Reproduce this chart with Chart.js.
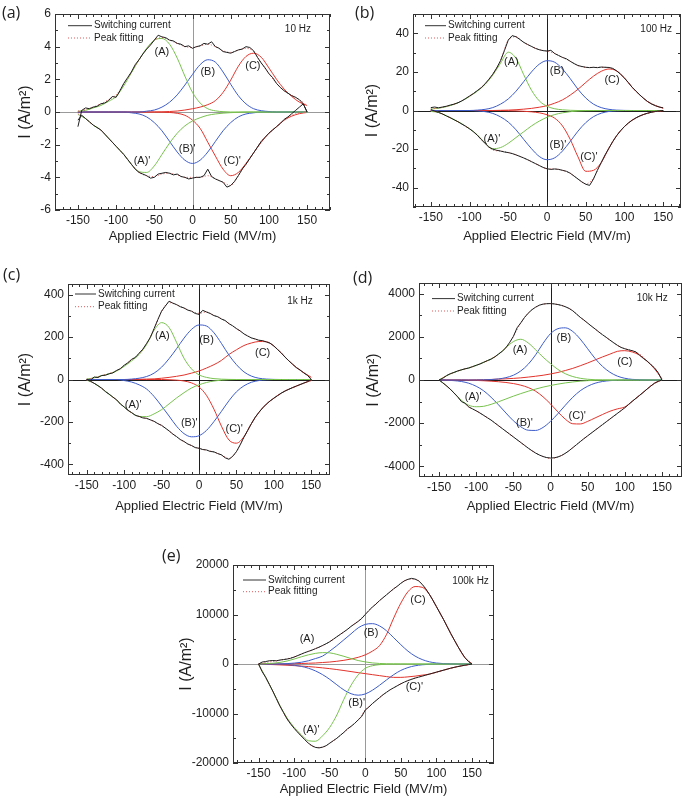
<!DOCTYPE html>
<html>
<head>
<meta charset="utf-8">
<title>Switching current peak fitting</title>
<script src="https://cdn.jsdelivr.net/npm/chart.js@4.4.0/dist/chart.umd.min.js"></script>
<style>
  body { margin: 0; background: #fff; }
  #page { position: relative; width: 685px; height: 800px; overflow: hidden; }
  canvas { position: absolute; }
  .tag { position: absolute; font: 16px "Open Sans", sans-serif; color: #222; line-height: 20px; }
</style>
</head>
<body>
<div id="page">
  <canvas id="chart-a" width="340" height="250" style="left:0;top:0"></canvas>
  <canvas id="chart-b" width="345" height="250" style="left:340px;top:0"></canvas>
  <canvas id="chart-c" width="340" height="260" style="left:0;top:260px"></canvas>
  <canvas id="chart-d" width="345" height="260" style="left:340px;top:260px"></canvas>
  <canvas id="chart-e" width="360" height="280" style="left:160px;top:520px"></canvas>
  <div class="tag" style="left:2px;top:2px">(a)</div>
  <div class="tag" style="left:355px;top:2px">(b)</div>
  <div class="tag" style="left:3px;top:264px">(c)</div>
  <div class="tag" style="left:353px;top:267px">(d)</div>
  <div class="tag" style="left:162px;top:545px">(e)</div>
</div>
<script>
// === Field grids (MV/m) ===
const FIELD_FINE = [-150,-145,-140,-135,-130,-125,-120,-115,-110,-105,-100,-95,-90,-85,-80,-75,-70,-65,-60,-55,
  -50,-45,-40,-35,-30,-25,-20,-15,-10,-5,0,5,10,15,20,25,30,35,40,45,50,55,60,65,70,75,80,85,90,95,
  100,105,110,115,120,125,130,135,140,145,150];
const FIELD = [-150,-140,-130,-120,-110,-100,-90,-80,-70,-60,-50,-40,-30,-20,-10,0,10,20,30,40,50,60,70,80,90,100,110,120,130,140,150];
const X_TICKS = [-150, -100, -50, 0, 50, 100, 150];

// === (a) 10 Hz ===
const aSwitchUp = [-0.9,0.1,0.25,0.2,0.3,0.35,0.5,0.55,0.7,0.95, 0.9,1.3,1.75,2.1,2.45,2.9,3.2,3.55,3.85,4.1,
  4.4,4.7,4.6,4.55,4.4,4.35,4.2,4.15,4.0,4.05, 3.9,4.0,4.05,4.2,4.15,4.3,4.0,3.9,3.7,3.65,
  3.6,3.7,3.8,3.85,4.0,3.95,3.75,3.35,3.0,2.7, 2.35,2.1,1.75,1.5,1.3,1.15,1.0,0.9,0.75,0.5,0.0];
const aSwitchLow = [-0.5,-0.2,-0.4,-0.6,-0.8,-0.95,-1.1,-1.35,-1.6,-1.85, -2.1,-2.35,-2.6,-2.9,-3.2,-3.5,-3.7,-3.8,-3.9,-4.05,
  -4.0,-3.8,-3.75,-3.7,-3.75,-3.85,-3.8,-3.95,-4.0,-4.1, -4.05,-4.0,-4.0,-3.9,-3.5,-3.95,-4.1,-4.2,-4.3,-4.6,
  -4.5,-4.25,-3.9,-3.5,-3.2,-2.85,-2.5,-2.15,-1.8,-1.55, -1.3,-1.1,-0.9,-0.7,-0.45,-0.3,-0.1,0.1,0.3,0.5,0.0];
const aFitUp = [0.05,0.15,0.3,0.5,0.75,1.05,1.7,2.45,3.2,3.85,4.4,4.55,4.4,4.2,4.0,3.95,4.05,4.15,4.0,3.75,3.65,3.8,3.9,3.7,3.0,2.35,1.75,1.3,1.0,0.75,0.4];
const aFitLow = [-0.1,-0.4,-0.8,-1.1,-1.6,-2.1,-2.6,-3.2,-3.7,-3.9,-3.95,-3.8,-3.75,-3.85,-4.0,-4.0,-4.0,-3.9,-4.1,-4.3,-4.5,-3.9,-3.2,-2.5,-1.8,-1.3,-0.9,-0.5,-0.2,-0.05,0];
const aPeakA = [0.05,0.1,0.25,0.4,0.65,0.95,1.6,2.4,3.2,3.9,4.4,4.5,4.15,3.3,2.2,1.2,0.55,0.2,0.07,0.02,0,0,0,0,0,0,0,0,0,0,0];
const aPeakB = [0,0,0,0,0,0,0,0,0,0.05,0.12,0.3,0.6,1.05,1.65,2.3,2.9,3.2,3.05,2.45,1.7,1.0,0.5,0.2,0.08,0.03,0,0,0,0,0];
const aPeakC = [0,0,0,0,0,0,0,0,0,0,0,0.01,0.03,0.06,0.12,0.2,0.3,0.45,0.7,1.2,1.95,2.8,3.4,3.6,3.35,2.7,2.0,1.4,0.95,0.6,0.4];
const aPeakA2 = [-0.15,-0.4,-0.8,-1.1,-1.6,-2.1,-2.6,-3.2,-3.65,-3.7,-3.3,-2.6,-1.9,-1.3,-0.85,-0.55,-0.35,-0.2,-0.12,-0.07,-0.04,-0.02,0,0,0,0,0,0,0,0,0];
const aPeakB2 = [0,0,0,0,0,0,0,-0.05,-0.12,-0.3,-0.65,-1.15,-1.8,-2.45,-2.95,-3.15,-2.95,-2.45,-1.8,-1.15,-0.65,-0.3,-0.12,-0.05,0,0,0,0,0,0,0];
const aPeakC2 = [0,0,0,0,0,0,0,0,0,0,0,-0.01,-0.03,-0.08,-0.2,-0.5,-1.0,-1.85,-2.7,-3.5,-3.9,-3.7,-3.15,-2.5,-1.85,-1.3,-0.9,-0.5,-0.25,-0.1,-0.03];

// === (b) 100 Hz ===
const bSwitchUp = [1.5,1.8,1.4,1.8,2.2,2.8,3.3,4.0,5.0,6.2, 7.5,8.8,10.3,11.8,13.8,16.2,18.8,22,25.8,31,
  36.5,38.8,38.2,36.8,35.3,34.2,33.2,32.2,31.5,31, 30.8,31.2,29.5,28.5,27.5,26.8,25.5,24.3,23.3,22.8,
  22.4,22.2,22.4,22.2,22.5,22.4,22.3,21.8,20.5,18.8, 16.8,14.5,12,10,8,6.2,4.6,3.4,2.5,1.8,1.4];
const bSwitchLow = [0.5,-0.3,-1.0,-1.8,-2.8,-3.7,-4.8,-5.8,-7.0,-8.2, -9.5,-11,-12.8,-15,-17,-19,-20,-20.6,-21,-21.5,
  -21.8,-22.3,-23,-23.8,-24.6,-25.5,-26.5,-27.5,-28.5,-29.5, -30.2,-30.5,-30.3,-30.5,-31,-31.5,-32.5,-34,-35.5,-37,
  -38.2,-38.8,-35.5,-31,-27,-23,-19.5,-16,-13,-10.5, -8.3,-6.5,-5.0,-3.8,-2.8,-2.0,-1.4,-0.9,-0.5,-0.2,0];
const bFitUp = [0.8,1.3,2.1,3.3,5.0,7.5,10.3,13.8,18.8,25.8,36.5,38.2,35.3,33.2,31.5,30.8,29.5,27.5,25.5,23.3,22.4,22.3,22.4,22.2,20.5,16.8,12,8,4.6,2.5,1.2];
const bFitLow = [-0.2,-1,-2.8,-4.8,-7,-9.5,-12.8,-17,-20.5,-21,-21.8,-23,-24.6,-26.5,-28.5,-30.2,-30.3,-31,-32.5,-35.5,-38,-35,-27,-19.5,-13,-8.3,-5,-2.8,-1.4,-0.5,0];
const bPeakA = [0.7,1.2,2.0,3.2,4.9,7.3,10,13.5,18.3,24.5,30.2,27,18.5,10.5,5,2.2,0.9,0.35,0.1,0,0,0,0,0,0,0,0,0,0,0,0];
const bPeakB = [0,0,0,0,0,0,0.2,0.6,1.5,3.3,6,10,15,20,24,25.8,25,21.5,16.5,11,6.5,3.3,1.5,0.6,0.2,0.05,0,0,0,0,0];
const bPeakC = [0,0,0,0,0,0,0,0,0,0.1,0.2,0.4,0.7,1.1,1.7,2.5,3.8,5.5,8,11,14.5,17.8,20.3,21.5,20.5,16.8,12,8,4.6,2.5,1.2];
const bPeakA2 = [-0.5,-1.0,-2.7,-4.7,-6.9,-9.4,-12.6,-16.8,-19.8,-19.2,-17,-14,-11,-8,-5.5,-3.5,-2.1,-1.2,-0.6,-0.3,-0.12,-0.05,0,0,0,0,0,0,0,0,0];
const bPeakB2 = [0,0,0,0,0,0,-0.2,-0.6,-1.5,-3.3,-6,-10,-15,-19.8,-23.8,-25.5,-24.5,-21,-16,-10.7,-6.3,-3.2,-1.4,-0.5,-0.15,0,0,0,0,0,0];
const bPeakC2 = [0,0,0,0,0,0,0,0,0,0,-0.1,-0.2,-0.4,-0.7,-1.2,-2.2,-4,-8,-15,-24,-31.5,-31,-27,-19.5,-13,-8.3,-5,-2.8,-1.4,-0.5,-0.1];

// === (c) 1k Hz ===
const cSwitchUp = [0,-3,12,9,19,20,27,31,43,51, 67,79,95,104,124,143,170,198,240,282,
  322,346,369,360,353,343,337,327,322,311, 307,326,318,311,301,296,285,278,263,253,
  240,229,215,205,196,191,185,183,177,171, 158,141,125,105,88,72,56,45,31,19,0];
const cSwitchLow = [0,-8,-18,-29,-41,-57,-69,-83,-96,-116, -129,-145,-156,-169,-174,-181,-183,-190,-197,-208,
  -216,-229,-242,-257,-269,-283,-292,-304,-311,-321, -324,-330,-332,-339,-341,-349,-355,-369,-376,-362,
  -340,-308,-272,-240,-208,-178,-155,-134,-116,-101, -88,-76,-64,-54,-46,-38,-31,-24,-17,-10,0];
const cFitUp = [2,8,18,28,42,66,94,122,168,238,320,362,352,336,322,312,318,302,286,264,240,216,196,185,178,158,124,88,57,32,10];
const cFitLow = [-3,-18,-42,-70,-97,-130,-157,-175,-184,-198,-217,-243,-270,-293,-312,-325,-333,-342,-356,-372,-340,-272,-208,-155,-116,-88,-64,-46,-31,-17,-5];
const cPeakA = [2,8,18,27,40,62,88,118,165,232,268,245,175,100,50,22,10,4,1.5,0.5,0,0,0,0,0,0,0,0,0,0,0];
const cPeakB = [0,0,0,0,0,0,2,6,14,30,58,98,145,195,236,257,252,220,170,115,70,36,16,6,2,0.5,0,0,0,0,0];
const cPeakC = [0,0,0,0,0,0,0,1,2,3,6,10,15,21,30,40,54,70,90,118,140,160,172,179,178,158,124,88,57,32,10];
const cPeakA2 = [-3,-18,-42,-70,-97,-130,-157,-174,-175,-162,-142,-115,-87,-62,-40,-25,-14,-7,-3,-1,0,0,0,0,0,0,0,0,0,0,0];
const cPeakB2 = [0,0,0,0,0,-5,-12,-25,-45,-80,-125,-172,-220,-255,-270,-265,-240,-198,-150,-100,-58,-30,-13,-5,-1.5,0,0,0,0,0,0];
const cPeakC2 = [0,0,0,0,0,0,0,0,0,0,0,-1,-3,-7,-16,-35,-75,-140,-220,-285,-300,-270,-208,-155,-116,-88,-64,-46,-31,-17,-5];

// === (d) 10k Hz ===
const dSwitchUp = [0,80,200,290,350,420,470,520,557,620, 680,740,820,900,970,1070,1200,1330,1500,1740,
  2020,2420,2650,2900,3100,3260,3380,3470,3520,3540, 3545,3530,3500,3460,3400,3320,3210,3060,2910,2780,
  2640,2500,2370,2230,2100,1980,1850,1730,1610,1510, 1450,1400,1360,1300,1150,1000,880,720,560,340,0];
const dSwitchLow = [0,-130,-270,-420,-600,-780,-1000,-1080,-1250,-1340, -1430,-1530,-1640,-1750,-1860,-1990,-2120,-2250,-2380,-2510,
  -2640,-2770,-2900,-3030,-3160,-3280,-3390,-3480,-3550,-3600, -3620,-3610,-3570,-3500,-3400,-3280,-3140,-3000,-2860,-2720,
  -2590,-2460,-2330,-2200,-2070,-1940,-1810,-1680,-1550,-1420, -1290,-1140,-990,-850,-710,-570,-420,-280,-150,-60,0];
const dFitUp = [0,200,350,470,557,680,820,970,1200,1500,2020,2650,3100,3380,3520,3545,3500,3400,3210,2910,2640,2370,2100,1850,1610,1450,1360,1200,880,560,50];
const dFitLow = [0,-270,-600,-960,-1250,-1430,-1640,-1860,-2120,-2380,-2640,-2900,-3160,-3390,-3550,-3640,-3570,-3400,-3140,-2860,-2590,-2330,-2070,-1810,-1550,-1290,-990,-710,-420,-150,0];
const dPeakA = [0,200,350,470,557,680,820,970,1200,1500,1780,1890,1720,1400,1060,760,490,290,160,80,35,12,4,0,0,0,0,0,0,0,0];
const dPeakB = [0,0,0,0,0,0,8,20,50,110,220,420,730,1170,1700,2150,2380,2420,2250,1900,1450,1000,630,360,180,80,30,10,0,0,0];
const dPeakC = [0,0,0,0,0,10,15,25,40,55,75,100,135,175,220,280,350,440,540,660,790,930,1070,1200,1330,1360,1300,1150,870,520,50];
const dPeakA2 = [0,-270,-590,-940,-1170,-1240,-1220,-1130,-1010,-880,-750,-630,-520,-420,-330,-255,-190,-135,-90,-55,-30,-15,-6,0,0,0,0,0,0,0,0];
const dPeakB2 = [0,-10,-30,-70,-150,-290,-500,-800,-1150,-1530,-1890,-2170,-2330,-2340,-2200,-1920,-1560,-1170,-800,-500,-290,-150,-70,-30,-10,0,0,0,0,0,0];
const dPeakC2 = [0,0,0,0,-10,-20,-35,-55,-80,-115,-165,-240,-350,-520,-780,-1110,-1480,-1820,-2030,-2040,-1920,-1760,-1600,-1450,-1340,-1250,-990,-710,-420,-150,0];

// === (e) 100k Hz ===
const eSwitchUp = [0,400,500,650,700,650,800,900,1000,1150, 1400,1700,2000,2300,2550,2800,3100,3400,3750,4100,
  4500,5000,5500,6000,6500,7000,7600,8100,8600,9200, 10000,10800,11500,12100,12800,13400,14000,14600,15200,15700,
  16300,16800,17100,17300,17150,16800,16100,15200,14100,12900, 11600,10300,9000,7600,6200,4900,3600,2400,1300,500,0];
const eSwitchLow = [0,-1550,-2700,-4100,-5500,-7000,-8500,-9800,-11100,-12100, -13000,-13800,-14550,-15300,-16000,-16500,-16850,-16950,-16800,-16500,
  -16000,-15500,-15000,-14400,-13800,-13100,-12600,-12000,-11300,-10600, -9300,-8700,-8000,-7400,-6800,-6200,-5700,-5200,-4800,-4400,
  -4000,-3650,-3350,-3100,-2850,-2650,-2450,-2250,-2050,-1850, -1650,-1450,-1250,-1050,-850,-680,-520,-380,-250,-120,0];
const eFitUp = [0,300,500,750,1050,1450,2000,2550,3100,3700,4500,5500,6500,7600,8700,10000,11500,12800,14000,15200,16300,17100,17150,16100,14100,11600,9000,6200,3600,1300,100];
const eFitLow = [-100,-2700,-5500,-8500,-11100,-13000,-14550,-16000,-16850,-16800,-16000,-15000,-13800,-12600,-11300,-9300,-8000,-6800,-5700,-4800,-4000,-3350,-2850,-2450,-2050,-1650,-1250,-850,-520,-250,0];
const ePeakA = [0,60,150,320,600,1000,1450,1850,2150,2300,2250,1950,1550,1100,700,420,220,110,50,20,8,0,0,0,0,0,0,0,0,0,0];
const ePeakB = [0,0,0,30,80,180,350,650,1100,1600,2600,3700,4900,6100,7300,8000,8150,7700,6700,5300,3900,2600,1600,900,450,200,80,30,0,0,0];
const ePeakC = [0,0,0,0,0,50,100,150,200,300,400,550,750,1000,1350,1850,2600,3700,6000,9300,12300,14600,15650,15500,14100,11600,9000,6200,3600,1300,50];
const ePeakA2 = [-100,-2700,-5500,-8400,-10900,-12800,-14300,-15500,-15600,-14500,-12800,-10300,-7100,-4300,-2200,-870,-350,-130,-50,-15,-5,0,0,0,0,0,0,0,0,0,0];
const ePeakB2 = [0,0,-20,-50,-120,-250,-480,-850,-1400,-2150,-3100,-4200,-5250,-6000,-6300,-6050,-5300,-4300,-3200,-2150,-1300,-720,-360,-160,-60,-20,0,0,0,0,0];
const ePeakC2 = [0,-60,-120,-180,-250,-330,-420,-520,-640,-780,-940,-1120,-1320,-1530,-1750,-1950,-2150,-2350,-2550,-2700,-2700,-2600,-2450,-2250,-2050,-1650,-1250,-850,-520,-250,0];

// === Styling ===
const FONT = '"Liberation Sans", Arial, sans-serif';
const INK = '#1e1e1e';
const GREEN = '#78c24e';
const BLUE = '#3d5cc8';
const RED = '#e2332b';
const FIT_RED = '#e05a5a';

const PANELS = [
  { id: 'chart-a', w: 340, h: 250, area: { l: 55, t: 14, r: 330, b: 210 }, x: [-180, 180], y: [-6, 6],
    yTicks: [-6, -4, -2, 0, 2, 4, 6], yMinor: 1, yTitleX: 26, xTitleY: 236, zero: '#9a9a9a',
    legend: { x0: 13, x1: 37, tx: 39, r1: 11.7, r2: 24 }, freq: ['10 Hz', 138, 5.06],
    up: aSwitchUp, low: aSwitchLow, fitUp: aFitUp, fitLow: aFitLow,
    peaks: [aPeakA, aPeakB, aPeakC, aPeakA2, aPeakB2, aPeakC2],
    notes: [['(A)', -40, 3.7], ['(B)', 20, 2.45], ['(C)', 79, 2.8], ["(A)'", -66, -3.0], ["(B)'", -7, -2.25], ["(C)'", 52, -3.0]] },
  { id: 'chart-b', w: 345, h: 250, area: { l: 73, t: 14, r: 341, b: 207 }, x: [-173, 173], y: [-50, 50],
    yTicks: [-40, -20, 0, 20, 40], yMinor: 10, yTitleX: 33, xTitleY: 236, zero: INK,
    legend: { x0: 12, x1: 33, tx: 35, r1: 11.7, r2: 24 }, freq: ['100 Hz', 141, 42.2],
    up: bSwitchUp, low: bSwitchLow, fitUp: bFitUp, fitLow: bFitLow,
    peaks: [bPeakA, bPeakB, bPeakC, bPeakA2, bPeakB2, bPeakC2],
    notes: [['(A)', -46, 25], ['(B)', 13, 20.3], ['(C)', 84, 15.9], ["(A)'", -71, -14.7], ["(B)'", 14, -17.8], ["(C)'", 54, -24]] },
  { id: 'chart-c', w: 340, h: 260, area: { l: 68, t: 24, r: 330, b: 215 }, x: [-175, 175], y: [-450, 450],
    yTicks: [-400, -200, 0, 200, 400], yMinor: 100, yTitleX: 26, xTitleY: 246, zero: INK,
    legend: { x0: 7, x1: 28, tx: 30, r1: 10, r2: 22.7 }, freq: ['1k Hz', 135, 369],
    up: cSwitchUp, low: cSwitchLow, fitUp: cFitUp, fitLow: cFitLow,
    peaks: [cPeakA, cPeakB, cPeakC, cPeakA2, cPeakB2, cPeakC2],
    notes: [['(A)', -49, 207], ['(B)', 10, 185], ['(C)', 85, 125], ["(A)'", -88, -121], ["(B)'", -13, -207], ["(C)'", 47, -235]] },
  { id: 'chart-d', w: 345, h: 260, area: { l: 79, t: 23, r: 342, b: 217 }, x: [-177, 177], y: [-4500, 4500],
    yTicks: [-4000, -2000, 0, 2000, 4000], yMinor: 1000, yTitleX: 34, xTitleY: 246, zero: INK,
    legend: { x0: 13, x1: 36, tx: 38, r1: 15.6, r2: 28 }, freq: ['10k Hz', 137, 3808],
    up: dSwitchUp, low: dSwitchLow, fitUp: dFitUp, fitLow: dFitLow,
    peaks: [dPeakA, dPeakB, dPeakC, dPeakA2, dPeakB2, dPeakC2],
    notes: [['(A)', -41, 1390], ['(B)', 18, 1950], ['(C)', 100, 820], ["(A)'", -104, -805], ["(B)'", -35, -2010], ["(C)'", 36, -1660]] },
  { id: 'chart-e', w: 360, h: 280, area: { l: 73, t: 45, r: 334, b: 243 }, x: [-186, 181], y: [-20000, 20000],
    yTicks: [-20000, -10000, 0, 10000, 20000], yMinor: 5000, yTitleX: 27, xTitleY: 269, zero: '#9a9a9a',
    legend: { x0: 10, x1: 33, tx: 35, r1: 15, r2: 26.7 }, freq: ['100k Hz', 148, 16750],
    up: eSwitchUp, low: eSwitchLow, fitUp: eFitUp, fitLow: eFitLow,
    peaks: [ePeakA, ePeakB, ePeakC, ePeakA2, ePeakB2, ePeakC2],
    notes: [['(A)', -82, 5080], ['(B)', 8, 6240], ['(C)', 74, 13000], ["(A)'", -76, -13400], ["(B)'", -12, -7860], ["(C)'", 69, -4600]] }
];

// frame with inward ticks on all four sides, zero lines, legend and peak labels
const panelDecor = {
  id: 'panelDecor',
  beforeDatasetsDraw(chart, args, o) {
    const { ctx, chartArea: a, scales: { x, y } } = chart;
    const x0 = Math.round(x.getPixelForValue(0)) + 0.5;
    const y0 = Math.round(y.getPixelForValue(0)) + 0.5;
    ctx.save();
    ctx.strokeStyle = o.zero;
    ctx.lineWidth = 1;
    ctx.beginPath();
    ctx.moveTo(x0, a.top); ctx.lineTo(x0, a.bottom);
    ctx.moveTo(a.left, y0); ctx.lineTo(a.right, y0);
    ctx.stroke();
    ctx.restore();
  },
  afterDraw(chart, args, o) {
    const { ctx, chartArea: a, scales: { x, y } } = chart;
    ctx.save();
    ctx.strokeStyle = '#333';
    ctx.lineWidth = 1;
    ctx.strokeRect(Math.round(a.left) + 0.5, Math.round(a.top) + 0.5, Math.round(a.right - a.left) - 1, Math.round(a.bottom - a.top) - 1);

    ctx.beginPath();
    for (let v = Math.ceil(x.min / 10) * 10; v <= x.max; v += 10) {
      const len = v % 50 === 0 ? 5 : 3;
      const px = Math.round(x.getPixelForValue(v)) + 0.5;
      ctx.moveTo(px, a.bottom); ctx.lineTo(px, a.bottom - len);
      ctx.moveTo(px, a.top); ctx.lineTo(px, a.top + len);
    }
    const major = o.yTicks[1] - o.yTicks[0];
    for (let v = Math.ceil(y.min / o.yMinor) * o.yMinor; v <= y.max; v += o.yMinor) {
      const len = Math.abs(v % major) < 1e-9 ? 5 : 3;
      const py = Math.round(y.getPixelForValue(v)) + 0.5;
      ctx.moveTo(a.left, py); ctx.lineTo(a.left + len, py);
      ctx.moveTo(a.right, py); ctx.lineTo(a.right - len, py);
    }
    ctx.stroke();

    // legend
    const lg = o.legend;
    ctx.lineWidth = 1;
    ctx.strokeStyle = '#333';
    ctx.beginPath();
    ctx.moveTo(a.left + lg.x0, a.top + lg.r1); ctx.lineTo(a.left + lg.x1, a.top + lg.r1);
    ctx.stroke();
    ctx.strokeStyle = FIT_RED;
    ctx.setLineDash([1, 2]);
    ctx.beginPath();
    ctx.moveTo(a.left + lg.x0, a.top + lg.r2); ctx.lineTo(a.left + lg.x1, a.top + lg.r2);
    ctx.stroke();
    ctx.setLineDash([]);
    ctx.fillStyle = INK;
    ctx.font = '10px ' + FONT;
    ctx.textBaseline = 'middle';
    ctx.textAlign = 'left';
    ctx.fillText('Switching current', a.left + lg.tx, a.top + lg.r1);
    ctx.fillText('Peak fitting', a.left + lg.tx, a.top + lg.r2);

    ctx.textAlign = 'center';
    ctx.fillText(o.freq[0], x.getPixelForValue(o.freq[1]), y.getPixelForValue(o.freq[2]));
    ctx.font = '11px ' + FONT;
    o.notes.forEach(([t, vx, vy]) => ctx.fillText(t, x.getPixelForValue(vx), y.getPixelForValue(vy)));
    ctx.restore();
  }
};

function curve(xs, ys, color, smooth, dash) {
  return {
    data: xs.map((v, i) => ({ x: v, y: ys[i] })),
    showLine: true,
    borderColor: color,
    borderWidth: 1,
    borderDash: dash || [],
    pointRadius: 0,
    fill: false,
    cubicInterpolationMode: smooth ? 'monotone' : 'default',
    tension: 0
  };
}

PANELS.forEach(p => {
  const xTitleFont = 13, yTitleFont = 16;
  const padLeft = p.yTitleX - yTitleFont * 1.2 / 2;
  const xBottom = p.xTitleY + xTitleFont * 1.2 / 2;
  const colors = [GREEN, BLUE, RED, GREEN, BLUE, RED];

  const datasets = [
    curve(FIELD_FINE, p.up, INK, false),
    curve(FIELD_FINE, p.low, INK, false),
    curve(FIELD, p.fitUp, FIT_RED, true, [1, 2]),
    curve(FIELD, p.fitLow, FIT_RED, true, [1, 2])
  ].concat(p.peaks.map((ys, i) => curve(FIELD, ys, colors[i], true)));

  new Chart(document.getElementById(p.id), {
    type: 'scatter',
    data: { datasets },
    plugins: [panelDecor],
    options: {
      responsive: false,
      animation: false,
      layout: { padding: { left: padLeft, top: p.area.t, right: p.w - p.area.r, bottom: p.h - xBottom } },
      plugins: {
        legend: { display: false },
        tooltip: { enabled: false },
        panelDecor: { zero: p.zero, yTicks: p.yTicks, yMinor: p.yMinor, legend: p.legend, freq: p.freq, notes: p.notes }
      },
      scales: {
        x: {
          type: 'linear', min: p.x[0], max: p.x[1],
          afterBuildTicks: s => { s.ticks = X_TICKS.map(v => ({ value: v })); },
          afterFit: s => { s.height = xBottom - p.area.b; },
          grid: { display: false, drawTicks: false },
          border: { display: false },
          ticks: { color: INK, font: { family: FONT, size: 12 }, padding: 3, maxRotation: 0, autoSkip: false, callback: v => String(v) },
          title: { display: true, text: 'Applied Electric Field (MV/m)', color: INK, font: { family: FONT, size: xTitleFont }, padding: 0 }
        },
        y: {
          type: 'linear', min: p.y[0], max: p.y[1],
          afterBuildTicks: s => { s.ticks = p.yTicks.map(v => ({ value: v })); },
          afterFit: s => { s.width = p.area.l - padLeft; },
          grid: { display: false, drawTicks: false },
          border: { display: false },
          ticks: { color: INK, font: { family: FONT, size: 12 }, padding: 4, autoSkip: false, callback: v => String(v) },
          title: { display: true, text: 'I (A/m²)', color: INK, font: { family: FONT, size: yTitleFont }, padding: 0 }
        }
      }
    }
  });
});
</script>
</body>
</html>
